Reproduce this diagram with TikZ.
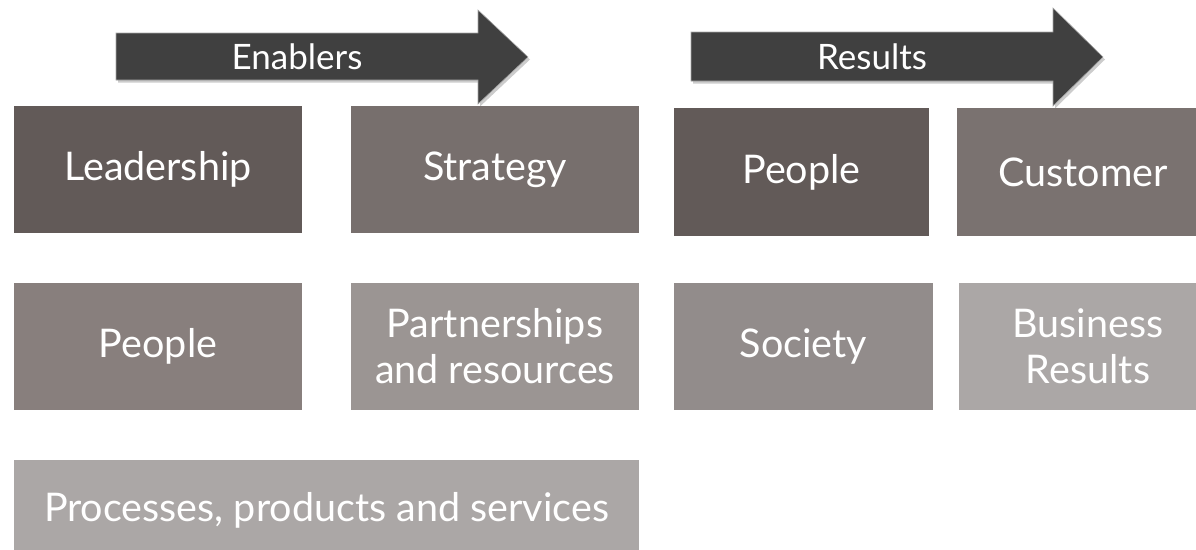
\documentclass[tikz,border=0pt]{standalone}
\usepackage{fontspec}
\setmainfont{Lato}
\usetikzlibrary{shadows}
\definecolor{arrowgray}{HTML}{404040}
\definecolor{cA}{HTML}{625A58}
\definecolor{cB}{HTML}{776F6D}
\definecolor{cC}{HTML}{887F7D}
\definecolor{cD}{HTML}{9B9593}
\definecolor{cE}{HTML}{ABA7A6}
\definecolor{cF}{HTML}{7A7270}
\definecolor{cG}{HTML}{928C8B}
\tikzset{
  box/.style={rectangle, inner sep=0pt, text=white, align=center,
    font=\fontsize{39.5}{46}\selectfont},
  bigarrow/.style={fill=arrowgray, draw=gray!70, line width=0.6pt,
    drop shadow={opacity=0.4, shadow xshift=2pt, shadow yshift=-2.5pt}},
  arrowtext/.style={text=white, font=\fontsize{35}{40}\selectfont, inner sep=0pt}
}
\begin{document}
\begin{tikzpicture}[x=1pt,y=-1pt]
\useasboundingbox (0,0) rectangle (1196,549);
% arrows
\path[bigarrow] (116,33) -- (478,33) -- (478,10) -- (528,57) -- (478,104) -- (478,80) -- (116,80) -- cycle;
\node[arrowtext] (enablers) at (297,57) {Enablers};
\path[bigarrow] (691,32) -- (1053,32) -- (1053,8) -- (1103,57) -- (1053,106) -- (1053,81) -- (691,81) -- cycle;
\node[arrowtext] (results) at (872,57) {Results};
% enablers boxes
\node[box, fill=cA, minimum width=288pt, minimum height=127pt] (lead) at (158,169.5) {Leadership};
\node[box, fill=cB, minimum width=288pt, minimum height=127pt] (strat) at (495,169.5) {Strategy};
\node[box, fill=cC, minimum width=288pt, minimum height=127pt] (peopleE) at (158,346.5) {People};
\node[box, fill=cD, minimum width=288pt, minimum height=127pt] (partner) at (495,346.5) {Partnerships\\and resources};
\node[box, fill=cE, minimum width=625pt, minimum height=100pt] (proc) at (326.5,510) {Processes, products and services};
% results boxes
\node[box, fill=cA, minimum width=255pt, minimum height=128pt] (peopleR) at (801.5,172) {People};
\node[box, fill=cF, minimum width=252pt, minimum height=128pt] (cust) at (1083,172) {Customer};
\node[box, fill=cG, minimum width=259pt, minimum height=127pt] (soc) at (803.5,346.5) {Society};
\node[box, fill=cE, minimum width=258pt, minimum height=127pt] (bus) at (1088,346.5) {Business\\Results};
\end{tikzpicture}
\end{document}
